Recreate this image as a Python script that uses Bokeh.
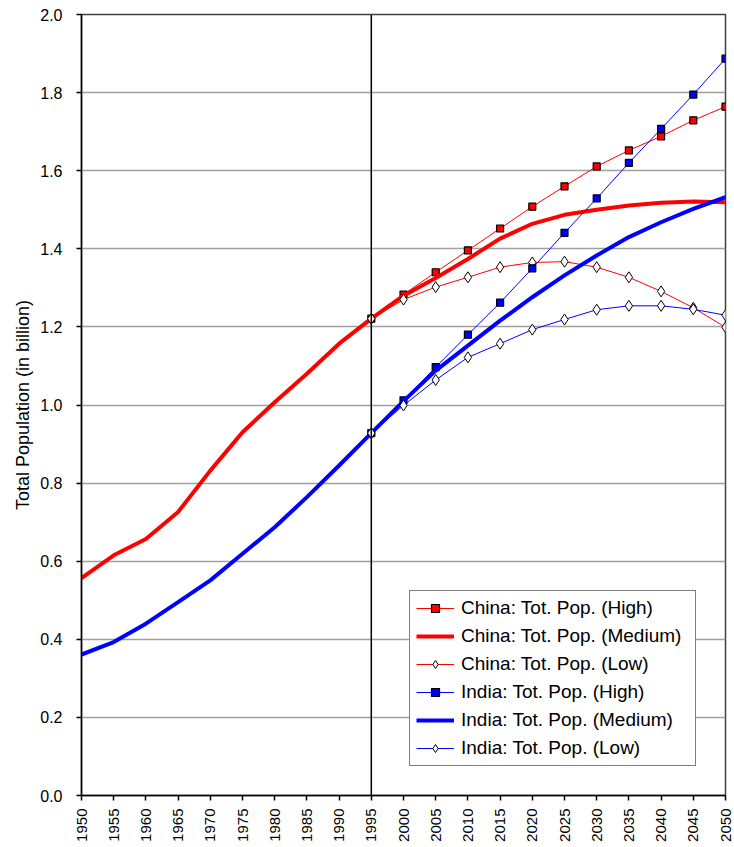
import math
from bokeh.plotting import figure
from bokeh.models import Span, Legend, LegendItem, FixedTicker, NumeralTickFormatter, Range1d
from bokeh.embed import file_html
from bokeh.resources import INLINE

# ---- data ----
years_all = [1950, 1955, 1960, 1965, 1970, 1975, 1980, 1985, 1990, 1995,
             2000, 2005, 2010, 2015, 2020, 2025, 2030, 2035, 2040, 2045, 2050]
years_proj = [1995, 2000, 2005, 2010, 2015, 2020, 2025, 2030, 2035, 2040, 2045, 2050]

china_medium = [0.557, 0.615, 0.657, 0.726, 0.832, 0.930, 1.007, 1.080, 1.157, 1.221,
                1.280, 1.325, 1.374, 1.426, 1.464, 1.487, 1.500, 1.511, 1.518, 1.521, 1.519]
india_medium = [0.361, 0.393, 0.440, 0.495, 0.551, 0.619, 0.687, 0.764, 0.845, 0.928,
                1.010, 1.088, 1.152, 1.216, 1.276, 1.332, 1.383, 1.430, 1.468, 1.502, 1.532]

china_high = [1.221, 1.283, 1.340, 1.396, 1.452, 1.508, 1.560, 1.611, 1.652, 1.688, 1.729, 1.764]
china_low = [1.221, 1.270, 1.302, 1.327, 1.353, 1.365, 1.367, 1.353, 1.327, 1.291, 1.249, 1.199]
india_high = [0.928, 1.012, 1.097, 1.180, 1.262, 1.350, 1.441, 1.529, 1.620, 1.707, 1.795, 1.887]
india_low = [0.928, 0.999, 1.064, 1.122, 1.157, 1.193, 1.219, 1.244, 1.254, 1.254, 1.245, 1.230]

y_ticks = [0.0, 0.2, 0.4, 0.6, 0.8, 1.0, 1.2, 1.4, 1.6, 1.8, 2.0]

series_names = ["China: Tot. Pop. (High)", "China: Tot. Pop. (Medium)", "China: Tot. Pop. (Low)",
                "India: Tot. Pop. (High)", "India: Tot. Pop. (Medium)", "India: Tot. Pop. (Low)"]

FONT = "Liberation Sans"
RED = "#ff0000"
BLUE = "#0000ff"

p = figure(width=734, height=847, output_backend="svg", toolbar_location=None,
           x_range=Range1d(1950, 2050), y_range=Range1d(0, 2.0))
p.min_border_left = 81
p.min_border_right = 9
p.min_border_top = 14
p.min_border_bottom = 52
p.background_fill_color = "white"
p.border_fill_color = "white"
p.outline_line_color = "#404040"
p.outline_line_width = 1.5

# grid
p.xgrid.visible = False
p.ygrid.grid_line_color = "#a0a0a0"
p.ygrid.grid_line_width = 1.5
p.ygrid.ticker = FixedTicker(ticks=y_ticks)

# axes
p.xaxis.ticker = FixedTicker(ticks=years_all)
p.yaxis.ticker = FixedTicker(ticks=y_ticks)
p.yaxis.formatter = NumeralTickFormatter(format="0.0")
p.xaxis.major_label_orientation = math.pi / 2
for ax in (p.xaxis[0], p.yaxis[0]):
    ax.axis_line_color = "black"
    ax.axis_line_width = 1.5
    ax.major_tick_line_color = "black"
    ax.major_tick_line_width = 1.5
    ax.major_tick_out = 5
    ax.major_tick_in = 0
    ax.minor_tick_line_color = None
    ax.major_label_text_font = FONT
    ax.major_label_text_font_size = "16px"
    ax.major_label_text_color = "black"
p.xaxis.major_label_text_font_size = "15px"
p.xaxis.major_label_standoff = 8
p.yaxis.major_label_standoff = 14
p.yaxis.axis_label = "Total Population (in billion)"
p.yaxis.axis_label_text_font = FONT
p.yaxis.axis_label_text_font_size = "18px"
p.yaxis.axis_label_text_font_style = "normal"
p.yaxis.axis_label_text_color = "black"
p.yaxis.axis_label_standoff = 4

# vertical reference line
p.add_layout(Span(location=1995, dimension="height", line_color="black", line_width=1.5))

items = []
# China High
l1 = p.line(years_proj, china_high, line_color=RED, line_width=1)
m1 = p.scatter(years_proj, china_high, marker="square", size=7, fill_color=RED, line_color="black", line_width=1.2)
items.append(LegendItem(label=series_names[0], renderers=[l1, m1]))
# China Medium
l2 = p.line(years_all, china_medium, line_color=RED, line_width=4)
items.append(LegendItem(label=series_names[1], renderers=[l2]))
# China Low
l3 = p.line(years_proj, china_low, line_color=RED, line_width=1)
m3 = p.scatter(years_proj, china_low, marker="diamond", size=11, fill_color="white", line_color="black", line_width=1)
items.append(LegendItem(label=series_names[2], renderers=[l3, m3]))
# India High
l4 = p.line(years_proj, india_high, line_color=BLUE, line_width=1)
m4 = p.scatter(years_proj, india_high, marker="square", size=7, fill_color=BLUE, line_color="black", line_width=1.2)
items.append(LegendItem(label=series_names[3], renderers=[l4, m4]))
# India Medium
l5 = p.line(years_all, india_medium, line_color=BLUE, line_width=4)
items.append(LegendItem(label=series_names[4], renderers=[l5]))
# India Low
l6 = p.line(years_proj, india_low, line_color=BLUE, line_width=1)
m6 = p.scatter(years_proj, india_low, marker="diamond", size=11, fill_color="white", line_color="black", line_width=1)
items.append(LegendItem(label=series_names[5], renderers=[l6, m6]))

legend = Legend(items=items, location=(328, 29))
legend.border_line_color = "black"
legend.border_line_width = 1.5
legend.background_fill_color = "white"
legend.background_fill_alpha = 1.0
legend.label_text_font = FONT
legend.label_text_font_size = "19px"
legend.label_text_color = "black"
legend.glyph_width = 38
legend.glyph_height = 20
legend.label_height = 20
legend.label_standoff = 7
legend.spacing = 6
legend.padding = 6
legend.margin = 0
legend.label_width = 228
p.add_layout(legend)

open("out.html", "w").write(file_html(p, INLINE))
